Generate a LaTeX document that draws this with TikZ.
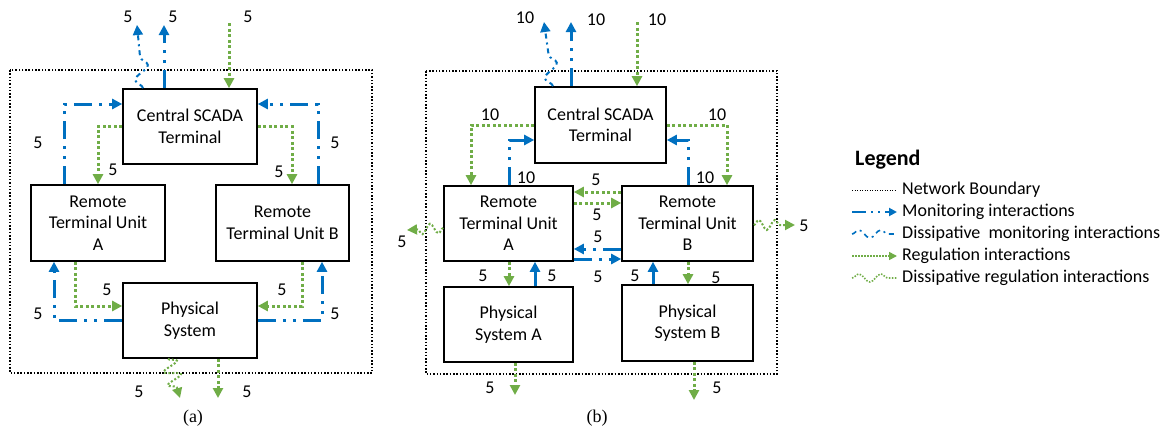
\documentclass[tikz,border=0pt]{standalone}
\usepackage{fontspec}
\setmainfont{Carlito}
\newfontfamily\capfont{Liberation Serif}
\usetikzlibrary{arrows.meta,decorations.pathmorphing}
\definecolor{monblue}{RGB}{0,112,192}
\definecolor{reggreen}{RGB}{112,173,71}
\begin{document}
\begin{tikzpicture}[x=1pt,y=-1pt,
  txt/.style={font=\fontsize{18}{21.5}\selectfont},
  box/.style={draw,line width=1.6pt,align=center,txt,inner sep=0pt},
  tip/.style={-{Triangle[length=10pt,width=10pt]}},
  mon/.style={monblue,line width=3pt,dash pattern=on 18pt off 7pt on 3pt off 7pt on 3pt off 7pt,tip},
  reg/.style={reggreen,line width=3pt,dash pattern=on 3pt off 2.5pt,tip},
  dmon/.style={monblue,line width=2pt,dash pattern=on 5pt off 4pt on 2pt off 4pt},
  dreg/.style={reggreen,line width=2pt,dash pattern=on 2pt off 2pt},
  bound/.style={line width=1.3pt,dash pattern=on 1.5pt off 1.8pt},
  lab/.style={txt,inner sep=0pt},
  captxt/.style={font=\capfont\fontsize{18}{20}\selectfont,inner sep=0pt},
]
\useasboundingbox (0,0) rectangle (1170,431);

% ================= (a) =================
\draw[bound] (10,70) rectangle (372,373);
\node[box,minimum width=134pt,minimum height=75pt] (scA) at (190,126.5) {Central SCADA\\Terminal};
\node[box,minimum width=134pt,minimum height=76pt] (rtuA) at (98,223) {Remote\\Terminal Unit\\A};
\node[box,minimum width=133pt,minimum height=76pt] (rtuB) at (282.5,223) {Remote\\Terminal Unit B};
\node[box,minimum width=134pt,minimum height=75pt] (phA) at (190,320.5) {Physical\\System};

\draw[mon] ([xshift=-34pt]rtuA.north) |- ([yshift=22.5pt]scA.west);
\draw[mon] ([xshift=35.5pt]rtuB.north) |- ([yshift=22.5pt]scA.east);
\draw[reg] (scA.west) -| (rtuA.north);
\draw[reg] (scA.east) -| ([xshift=9.5pt]rtuB.north);
\node[lab] (a1) at (38,143) {5};
\node[lab] (a2) at (335,143) {5};
\node[lab] (a3) at (113,170) {5};
\node[lab] (a4) at (279,172) {5};

\coordinate (aT1) at (137,25);
\coordinate (aT2) at (164,25);
\coordinate (aT3) at (229,23);
\draw[dmon,tip,decorate,decoration={snake,amplitude=7pt,segment length=28pt,post length=18pt}] ([xshift=-47pt]scA.north) -- (aT1);
\draw[mon] (scA.north -| aT2) -- (aT2);
\draw[reg] (aT3) -- (aT3 |- scA.north);
\node[lab] (a5) at (128,17) {5};
\node[lab] (a6) at (173,17) {5};
\node[lab] (a7) at (248,17) {5};

\draw[reg] ([xshift=-23pt]rtuA.south) |- ([yshift=14.5pt]phA.west);
\draw[mon] ([yshift=0.5pt]phA.west) -| ([xshift=-44pt]rtuA.south);
\draw[reg] ([xshift=19.5pt]rtuB.south) |- ([yshift=14.5pt]phA.east);
\draw[mon] ([yshift=0.5pt]phA.east) -| ([xshift=39.5pt]rtuB.south);
\node[lab] (a8) at (107,290) {5};
\node[lab] (a9) at (38,314) {5};
\node[lab] (a10) at (282,290) {5};
\node[lab] (a11) at (335,314) {5};

\coordinate (aB1) at (180,398);
\coordinate (aB2) at (218,398);
\draw[dreg,tip,decorate,decoration={snake,amplitude=8pt,segment length=14pt,post length=9pt}] ([xshift=-22pt]phA.south) -- (aB1);
\draw[reg] (phA.south -| aB2) -- (aB2);
\node[lab] (a12) at (139,392) {5};
\node[lab] (a13) at (247,392) {5};
\node[captxt] (capa) at (193,418) {(a)};

% ================= (b) =================
\draw[bound] (426,71) rectangle (777,374);
\node[box,minimum width=131pt,minimum height=76pt] (scB) at (600.5,125) {Central SCADA\\Terminal};
\node[box,minimum width=129pt,minimum height=75pt] (rA) at (508.5,223.5) {Remote\\Terminal Unit\\A};
\node[box,minimum width=131pt,minimum height=75pt] (rB) at (687.5,223.5) {Remote\\Terminal Unit\\B};
\node[box,minimum width=129pt,minimum height=75pt] (pA) at (508.5,324.5) {Physical\\System A};
\node[box,minimum width=131pt,minimum height=76pt] (pB) at (687.5,323) {Physical\\System B};

\coordinate (bT1) at (544,22);
\coordinate (bT2) at (571,22);
\coordinate (bT3) at (637,22);
\draw[dmon,tip,decorate,decoration={snake,amplitude=7pt,segment length=28pt,post length=20pt}] ([xshift=-47.5pt]scB.north) -- (bT1);
\draw[mon] (scB.north -| bT2) -- (bT2);
\draw[reg] (bT3) -- (bT3 |- scB.north);
\node[lab] (b1) at (525,18) {10};
\node[lab] (b2) at (596,20) {10};
\node[lab] (b3) at (657,20) {10};

\draw[reg] (scB.west) -| ([xshift=-37.5pt]rA.north);
\draw[reg] (scB.east) -| ([xshift=39.5pt]rB.north);
\draw[mon] ([xshift=0.5pt]rA.north) |- ([yshift=-15pt]scB.west);
\draw[mon] ([xshift=0.5pt]rB.north) |- ([yshift=-15pt]scB.east);
\node[lab] (b4) at (490,115) {10};
\node[lab] (b5) at (717,115) {10};
\node[lab] (b6) at (526,178) {10};
\node[lab] (b7) at (705,178) {10};

\draw[reg] ([yshift=31.5pt]rB.west) -- ([yshift=31.5pt]rA.east);
\draw[reg] ([yshift=20.5pt]rA.east) -- ([yshift=20.5pt]rB.west);
\draw[mon] ([yshift=-25.5pt]rB.west) -- ([yshift=-25.5pt]rA.east);
\draw[mon] ([yshift=-35.5pt]rA.east) -- ([yshift=-35.5pt]rB.west);
\node[lab] (b8) at (596,180) {5};
\node[lab] (b9) at (597,215) {5};
\node[lab] (b10) at (598,237) {5};
\node[lab] (b11) at (598,277) {5};

\draw[reg] ([xshift=0.5pt]rA.south) -- ([xshift=0.5pt]pA.north);
\draw[mon] ([xshift=26.5pt]pA.north) -- ([xshift=26.5pt]rA.south);
\draw[mon] ([xshift=-34.5pt]pB.north) -- ([xshift=-34.5pt]rB.south);
\draw[reg] ([xshift=0.5pt]rB.south) -- ([xshift=0.5pt]pB.north);
\node[lab] (b12) at (483,276) {5};
\node[lab] (b13) at (552,276) {5};
\node[lab] (b14) at (635,276) {5};
\node[lab] (b15) at (716,278) {5};

\coordinate (bB1) at (515,395);
\coordinate (bB2) at (694,400);
\draw[reg] (pA.south -| bB1) -- (bB1);
\draw[reg] (pB.south -| bB2) -- (bB2);
\node[lab] (b16) at (490,388) {5};
\node[lab] (b17) at (717,388) {5};

\coordinate (bL) at (407,230);
\coordinate (bR) at (795,225);
\draw[dreg,tip,decorate,decoration={snake,amplitude=5pt,segment length=16pt,post length=9pt}] ([yshift=-4.5pt]rA.west) -- (bL);
\draw[dreg,tip,decorate,decoration={snake,amplitude=5pt,segment length=16pt,post length=9pt}] ([yshift=-1.5pt]rB.east) -- (bR);
\node[lab] (b18) at (402,242) {5};
\node[lab] (b19) at (804,226) {5};
\node[captxt] (capb) at (597,418) {(b)};

% ================= Legend =================
\node[anchor=west,inner sep=0pt,font=\bfseries\fontsize{22}{24}\selectfont] (lg) at (855,160) {Legend};
\draw[line width=1pt,dash pattern=on 1pt off 1.5pt] (852,190) -- (897,190);
\node[txt,anchor=west,inner sep=0pt] (lg1) at (902,190) {Network Boundary};
\draw[monblue,line width=2pt,dash pattern=on 14pt off 5pt on 2pt off 5pt on 2pt off 5pt,-{Triangle[length=8pt,width=8pt]}] (852,212) -- (897,212);
\node[txt,anchor=west,inner sep=0pt] (lg2) at (902,212) {Monitoring interactions};
\draw[dmon,line width=1.6pt,decorate,decoration={snake,amplitude=4pt,segment length=22pt}] (852,234) -- (897,234);
\node[txt,anchor=west,inner sep=0pt] (lg3) at (902,234) {Dissipative~ monitoring interactions};
\draw[reggreen,line width=1.6pt,dash pattern=on 1.5pt off 1.5pt,-{Triangle[length=8pt,width=8pt]}] (852,256) -- (897,256);
\node[txt,anchor=west,inner sep=0pt] (lg4) at (902,256) {Regulation interactions};
\draw[dreg,line width=1.6pt,dash pattern=on 1.5pt off 1.5pt,decorate,decoration={snake,amplitude=4pt,segment length=22pt}] (852,278) -- (897,278);
\node[txt,anchor=west,inner sep=0pt] (lg5) at (902,278) {Dissipative regulation interactions};
\end{tikzpicture}
\end{document}
